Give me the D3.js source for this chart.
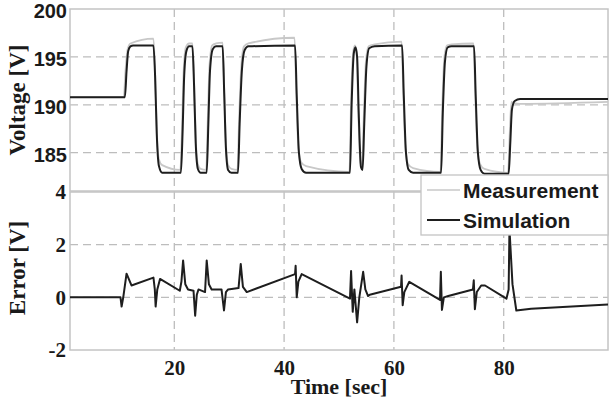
<!DOCTYPE html>
<html>
<head>
<meta charset="utf-8">
<script src="https://cdn.jsdelivr.net/npm/d3@7"></script>
<style>
  body { margin: 0; background: white; }
  svg { display: block; }
</style>
</head>
<body>
<script>
// time [s], voltage [V]
const simulation = [
    [1, 190.8], [11.0, 190.8], [11.3, 193.5], [11.6, 195.6], [12.0, 196.1], [12.5, 196.2],
    [16.2, 196.2], [16.5, 193], [16.8, 187], [17.2, 183.6], [17.8, 182.9], [21.2, 182.9],
    [21.5, 187], [21.8, 193], [22.2, 195.6], [22.7, 196.1], [23.3, 196.1], [23.6, 192],
    [23.9, 186], [24.3, 183.3], [24.8, 182.9], [25.9, 182.9], [26.2, 188], [26.5, 193.5],
    [27, 195.8], [27.6, 196.1], [28.8, 196.1], [29.1, 191], [29.4, 185.5], [29.8, 183.2],
    [30.4, 182.9], [31.6, 182.9], [31.9, 188], [32.3, 193.5], [32.8, 195.7], [33.5, 196.1],
    [42.0, 196.2], [42.3, 191], [42.7, 185], [43.2, 183.3], [44, 182.9], [52.0, 182.9],
    [52.3, 190], [52.7, 195.4], [53.0, 196.0], [53.3, 195], [53.6, 189], [54.0, 183.5],
    [54.3, 183.2], [54.6, 188], [55.0, 194], [55.5, 195.9], [56.5, 196.1], [61.5, 196.2],
    [61.8, 191], [62.2, 185], [62.7, 183.2], [63.5, 182.9], [68.6, 182.9], [68.9, 189],
    [69.3, 194.5], [69.8, 196], [70.5, 196.1], [74.6, 196.1], [74.9, 191], [75.3, 185],
    [75.8, 183.2], [76.5, 182.8], [80.9, 182.8], [81.2, 186], [81.5, 189.5], [82, 190.4],
    [83, 190.6], [99, 190.6]
]
const measurement = [
    [1, 190.8], [10.8, 190.8], [11.1, 193.5], [11.5, 195.8], [12.0, 196.4], [16.2, 196.9],
    [16.5, 193.5], [16.8, 187.5], [17.2, 184.3], [17.8, 183.7], [21.1, 183.2], [21.4, 187.5],
    [21.7, 193.5], [22.1, 196], [22.7, 196.4], [23.3, 196.4], [23.6, 192.5], [23.9, 186.5],
    [24.3, 183.8], [24.8, 183.3], [25.8, 183.2], [26.1, 188.5], [26.4, 194], [26.9, 196.2],
    [27.6, 196.4], [28.8, 196.5], [29.1, 191.5], [29.4, 186], [29.8, 183.7], [30.4, 183.3],
    [31.5, 183.2], [31.8, 188.5], [32.2, 194], [32.7, 196.1], [33.5, 196.4], [41.9, 197.0],
    [42.2, 191.5], [42.6, 185.5], [43.1, 184], [44, 183.6], [51.9, 183.0], [52.2, 190.5],
    [52.6, 195.6], [52.9, 196.2], [53.2, 195.5], [53.5, 189.5], [53.9, 184], [54.2, 183.6],
    [54.5, 188.5], [54.9, 194.5], [55.4, 196.1], [56.5, 196.3], [61.4, 196.6], [61.7, 191.5],
    [62.1, 185.5], [62.6, 183.8], [63.5, 183.4], [68.5, 183.0], [68.8, 189.5], [69.2, 195],
    [69.7, 196.2], [70.5, 196.3], [74.5, 196.4], [74.8, 191.5], [75.2, 185.5], [75.7, 183.8],
    [76.5, 183.3], [80.8, 182.9], [81.1, 187], [81.4, 190.3], [81.8, 190.2], [83, 190.1],
    [99, 190.3]
]
const error = [
    [1, 0], [10.2, 0], [10.4, -0.35], [10.7, 0], [11.3, 0.9], [12.2, 0.45], [16.2, 0.75],
    [16.45, 0.3], [16.6, -0.35], [16.9, 0.3], [17.4, 0.7], [21.0, 0.25], [21.3, 0.6],
    [21.6, 1.4], [22.0, 0.5], [22.5, 0.3], [23.5, 0.25], [23.8, -0.7], [24.1, 0.1],
    [24.4, 0.3], [25.6, 0.2], [25.9, 1.4], [26.3, 0.5], [26.8, 0.3], [28.6, 0.3],
    [29.05, -0.5], [29.4, 0.2], [29.8, 0.3], [31.7, 0.35], [32.1, 1.27], [32.5, 0.4],
    [33.2, 0.2], [42.0, 0.88], [42.1, 1.2], [42.3, 0.0], [42.6, 0.6], [43.2, 0.88],
    [52.0, -0.05], [52.2, 1.0], [52.5, -0.55], [52.8, 0.3], [53.3, -0.95], [53.7, 0.0],
    [54.4, 0.97], [54.8, 0.3], [55.3, 0.05], [55.6, 0.1], [61.3, 0.4], [61.4, 0.83],
    [61.6, -0.3], [61.9, 0.2], [62.8, 0.59], [68.4, -0.1], [68.55, 0.97], [68.75, -0.48],
    [69.1, 0.0], [69.9, 0.05], [74.4, 0.3], [74.55, 0.65], [74.75, -0.45], [75.1, 0.2],
    [75.9, 0.45], [76.6, 0.45], [80.5, -0.05], [80.9, 0.3], [81.05, 2.6], [81.6, 0.5],
    [82.3, -0.5], [85, -0.43], [99, -0.27]
]
const xTicks = [20, 40, 60, 80]
const vTicks = [185, 190, 195, 200]
const eTicks = [-2, 0, 2, 4]
const legendLabels = ["Measurement", "Simulation"]

const [width, height] = [611, 400]
const colors = {
    "sim": "#1e1e1e",
    "meas": "#c8c8c8",
    "frame": "#c4c4c4",
    "grid": "#bdbdbd",
    "text": "#1a1a1a"
}
const sans = "'Liberation Sans', Arial, sans-serif"
const serif = "'Liberation Serif', 'Times New Roman', serif"

const x = d3.scaleLinear().domain([1, 99]).range([70, 608])
const yV = d3.scaleLinear().domain([181, 200]).range([191, 9])
const yE = d3.scaleLinear().domain([-2, 4]).range([350, 192])

const svg = d3.select("body")
        .append("svg")
            .attr("width", width)
            .attr("height", height)

// GRID
const grid = svg.append("g")
        .attr("stroke", colors.grid)
        .attr("stroke-width", 1.3)
        .attr("stroke-dasharray", "8,5")
grid.selectAll(".vx")
    .data(xTicks)
    .join("line")
        .attr("x1", d => x(d)).attr("x2", d => x(d))
        .attr("y1", yV.range()[1]).attr("y2", yE.range()[0])
grid.selectAll(".hv")
    .data([185, 190, 195])
    .join("line")
        .attr("x1", x.range()[0]).attr("x2", x.range()[1])
        .attr("y1", d => yV(d)).attr("y2", d => yV(d))
grid.selectAll(".he")
    .data([0, 2])
    .join("line")
        .attr("x1", x.range()[0]).attr("x2", x.range()[1])
        .attr("y1", d => yE(d)).attr("y2", d => yE(d))

// FRAMES
svg.append("g")
    .attr("fill", "none")
    .attr("stroke", colors.frame)
    .attr("stroke-width", 1.5)
    .selectAll("rect")
        .data([yV, yE])
        .join("rect")
            .attr("x", x.range()[0])
            .attr("y", d => d.range()[1])
            .attr("width", x.range()[1] - x.range()[0])
            .attr("height", d => d.range()[0] - d.range()[1])

// LINES
const line = sc => d3.line()
        .x(d => x(d[0]))
        .y(d => sc(d[1]))
        .curve(d3.curveMonotoneX)

svg.append("path")
    .datum(measurement)
    .attr("fill", "none")
    .attr("stroke", colors.meas)
    .attr("stroke-width", 1.8)
    .attr("d", line(yV))
svg.append("path")
    .datum(simulation)
    .attr("fill", "none")
    .attr("stroke", colors.sim)
    .attr("stroke-width", 2)
    .attr("stroke-linejoin", "round")
    .attr("d", line(yV))
svg.append("path")
    .datum(error)
    .attr("fill", "none")
    .attr("stroke", colors.sim)
    .attr("stroke-width", 2)
    .attr("stroke-linejoin", "round")
    .attr("d", d3.line().x(d => x(d[0])).y(d => yE(d[1])))

// AXES
const noLine = g => g.call(a => a.select(".domain").remove())
svg.append("g")
    .attr("transform", `translate(${x.range()[0] - 3},1.5)`)
    .call(d3.axisLeft(yV).tickValues(vTicks).tickSize(0).tickPadding(0))
    .call(noLine)
    .selectAll("text")
        .style("font", `bold 20px ${sans}`)
        .attr("dy", "0.36em")
        .attr("fill", colors.text)
svg.append("g")
    .attr("transform", `translate(${x.range()[0] - 4},0)`)
    .call(d3.axisLeft(yE).tickValues(eTicks).tickFormat(d => String(d)).tickSize(0).tickPadding(0))
    .call(noLine)
    .selectAll("text")
        .style("font", `bold 21px ${serif}`)
        .attr("fill", colors.text)
svg.append("g")
    .attr("transform", `translate(0,${yE.range()[0]})`)
    .call(d3.axisBottom(x).tickValues(xTicks).tickSize(0).tickPadding(10))
    .call(noLine)
    .selectAll("text")
        .style("font", `bold 21px ${serif}`)
        .attr("fill", colors.text)

// LABELS
svg.append("text")
    .attr("transform", `translate(25,${(yV.range()[0] + yV.range()[1]) / 2}) rotate(-90)`)
    .attr("text-anchor", "middle")
    .style("font", `bold 23px ${serif}`)
    .attr("fill", colors.text)
    .text("Voltage [V]")
svg.append("text")
    .attr("transform", `translate(25,268) rotate(-90)`)
    .attr("text-anchor", "middle")
    .style("font", `bold 23px ${serif}`)
    .attr("fill", colors.text)
    .text("Error [V]")
svg.append("text")
    .attr("x", (x.range()[0] + x.range()[1]) / 2)
    .attr("y", 394)
    .attr("text-anchor", "middle")
    .style("font", `bold 22px ${serif}`)
    .attr("fill", colors.text)
    .text("Time [sec]")

// LEGEND
const legend = svg.append("g").attr("transform", "translate(421,175)")
legend.append("rect")
    .attr("width", x.range()[1] - 421)
    .attr("height", 60)
    .attr("fill", "white")
    .attr("stroke", colors.frame)
    .attr("stroke-width", 1.3)
const item = legend.selectAll(".item")
    .data(legendLabels)
    .join("g")
        .attr("transform", (d, i) => `translate(0,${15 + i * 30})`)
item.append("line")
    .attr("x1", 6).attr("x2", 39)
    .attr("stroke", (d, i) => i ? colors.sim : colors.meas)
    .attr("stroke-width", (d, i) => i ? 1.8 : 1.5)
item.append("text")
    .attr("x", 42)
    .attr("y", 8)
    .style("font", `bold 21px ${sans}`)
    .attr("fill", colors.text)
    .text(d => d)
</script>
</body>
</html>
